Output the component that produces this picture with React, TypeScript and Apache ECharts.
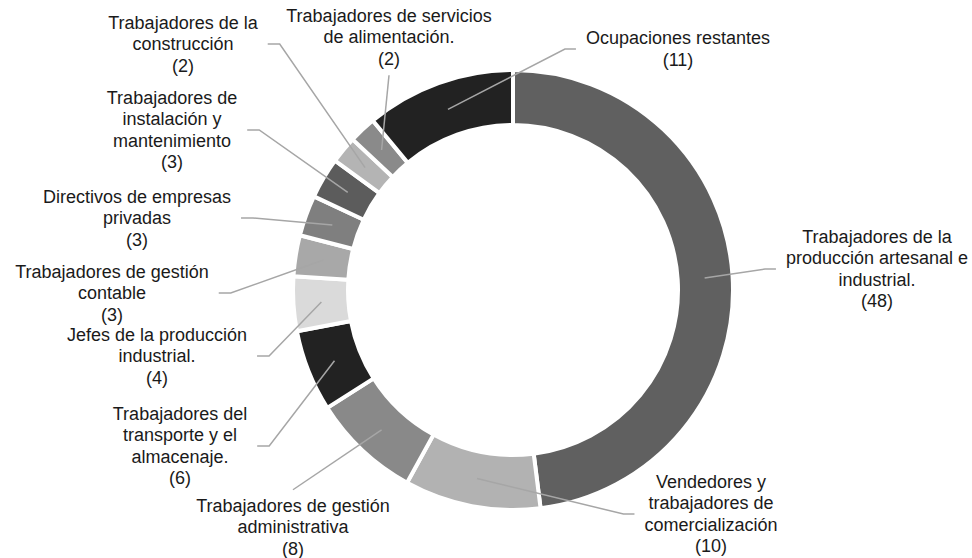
import React, { useEffect, useRef } from 'react';
import * as echarts from 'echarts';

const categories = [
  'Trabajadores de la\nproducción artesanal e\nindustrial.',
  'Vendedores y\ntrabajadores de\ncomercialización',
  'Trabajadores de gestión\nadministrativa',
  'Trabajadores del\ntransporte y el\nalmacenaje.',
  'Jefes de la producción\nindustrial.',
  'Trabajadores de gestión\ncontable',
  'Directivos de empresas\nprivadas',
  'Trabajadores de\ninstalación y\nmantenimiento',
  'Trabajadores de la\nconstrucción',
  'Trabajadores de servicios\nde alimentación.',
  'Ocupaciones restantes',
];

const values = [48, 10, 8, 6, 4, 3, 3, 3, 2, 2, 11];

const colors = [
  '#606060', '#b2b2b2', '#898989', '#222222', '#dadada', '#a8a8a8',
  '#7f7f7f', '#5c5c5c', '#b4b4b4', '#8a8a8a', '#222222',
];

// label layout: [centerX, centerY, side where the leader line attaches]
const labelPlacement: [number, number, string][] = [
  [877, 269, 'left'],
  [711, 514, 'left'],
  [293, 527, 'top'],
  [180, 446, 'right'],
  [157, 356, 'right'],
  [112, 293, 'right'],
  [137, 218, 'right'],
  [172, 130, 'right'],
  [183, 44, 'right'],
  [389, 37, 'bottom'],
  [678, 49, 'left'],
];

const CX = 513;
const CY = 290;
const R_OUT = 220;
const R_IN = 165;
const R_MID = 192;
const FONT_SIZE = 18;
const LINE_H = 21.5;
const FONT_FAMILY = 'Liberation Sans, Arial, sans-serif';

function labelText(i: number) {
  return `${categories[i]}\n(${values[i]})`;
}

export default function App() {
  const ref = useRef<HTMLDivElement>(null);
  useEffect(() => {
    if (!ref.current) return;
    const chart = echarts.init(ref.current, undefined, { renderer: 'svg' });
    const total = values.reduce((a, b) => a + b, 0);

    const canvas = document.createElement('canvas');
    const ctx = canvas.getContext('2d') as CanvasRenderingContext2D;
    ctx.font = `${FONT_SIZE}px ${FONT_FAMILY}`;
    const measure = (i: number) => {
      const lines = labelText(i).split('\n');
      let w = 0;
      lines.forEach((l) => {
        w = Math.max(w, ctx.measureText(l).width);
      });
      return { w, h: lines.length * LINE_H };
    };

    const leaderPoints = (i: number, v: number) => {
      let cum = 0;
      for (let k = 0; k < i; k++) cum += values[k];
      const ang = ((90 - (360 * (cum + v / 2)) / total) * Math.PI) / 180;
      const sx = CX + R_MID * Math.cos(ang);
      const sy = CY - R_MID * Math.sin(ang);
      const [x, y, side] = labelPlacement[i];
      const { w, h } = measure(i);
      if (side === 'left') {
        const ex = x - w / 2 - 10;
        return [[sx, sy], [ex - 11, y], [ex, y]];
      }
      if (side === 'right') {
        const ex = x + w / 2 + 10;
        return [[sx, sy], [ex + 12, y], [ex, y]];
      }
      if (side === 'top') {
        const ey = y - h / 2 - 5;
        return [[sx, sy], [x, ey]];
      }
      const ey = y + h / 2 + 6;
      return [[sx, sy], [x, ey]];
    };

    const option = {
      animation: false,
      backgroundColor: '#ffffff',
      series: [
        {
          type: 'pie',
          center: [CX, CY],
          radius: [R_IN, R_OUT],
          startAngle: 90,
          clockwise: true,
          avoidLabelOverlap: false,
          itemStyle: { borderColor: '#ffffff', borderWidth: 4 },
          emphasis: { disabled: true },
          label: {
            show: true,
            position: 'outside',
            formatter: '{b}\n({c})',
            fontFamily: FONT_FAMILY,
            fontSize: FONT_SIZE,
            lineHeight: LINE_H,
            color: '#1a1a1a',
            align: 'center',
          },
          labelLine: { show: false },
          labelLayout: (p: any) => {
            const [x, y] = labelPlacement[p.dataIndex];
            return { x, y, align: 'center', verticalAlign: 'middle' };
          },
          data: categories.map((name, i) => ({
            name,
            value: values[i],
            itemStyle: { color: colors[i] },
          })),
        },
        {
          type: 'custom',
          coordinateSystem: 'none',
          silent: true,
          z: 5,
          data: values.map((v, i) => [i, v]),
          renderItem: (params: any, api: any) => {
            const i = params.dataIndex;
            const v = api.value(1);
            return {
              type: 'polyline',
              shape: { points: leaderPoints(i, v) },
              style: { stroke: '#a6a6a6', lineWidth: 1.5, fill: null },
            };
          },
        },
      ],
    };
    chart.setOption(option as any);
    return () => chart.dispose();
  }, []);
  return (
    <div
      ref={ref}
      style={{ position: 'fixed', left: 0, top: 0, width: 972, height: 558, background: '#fff' }}
    />
  );
}
